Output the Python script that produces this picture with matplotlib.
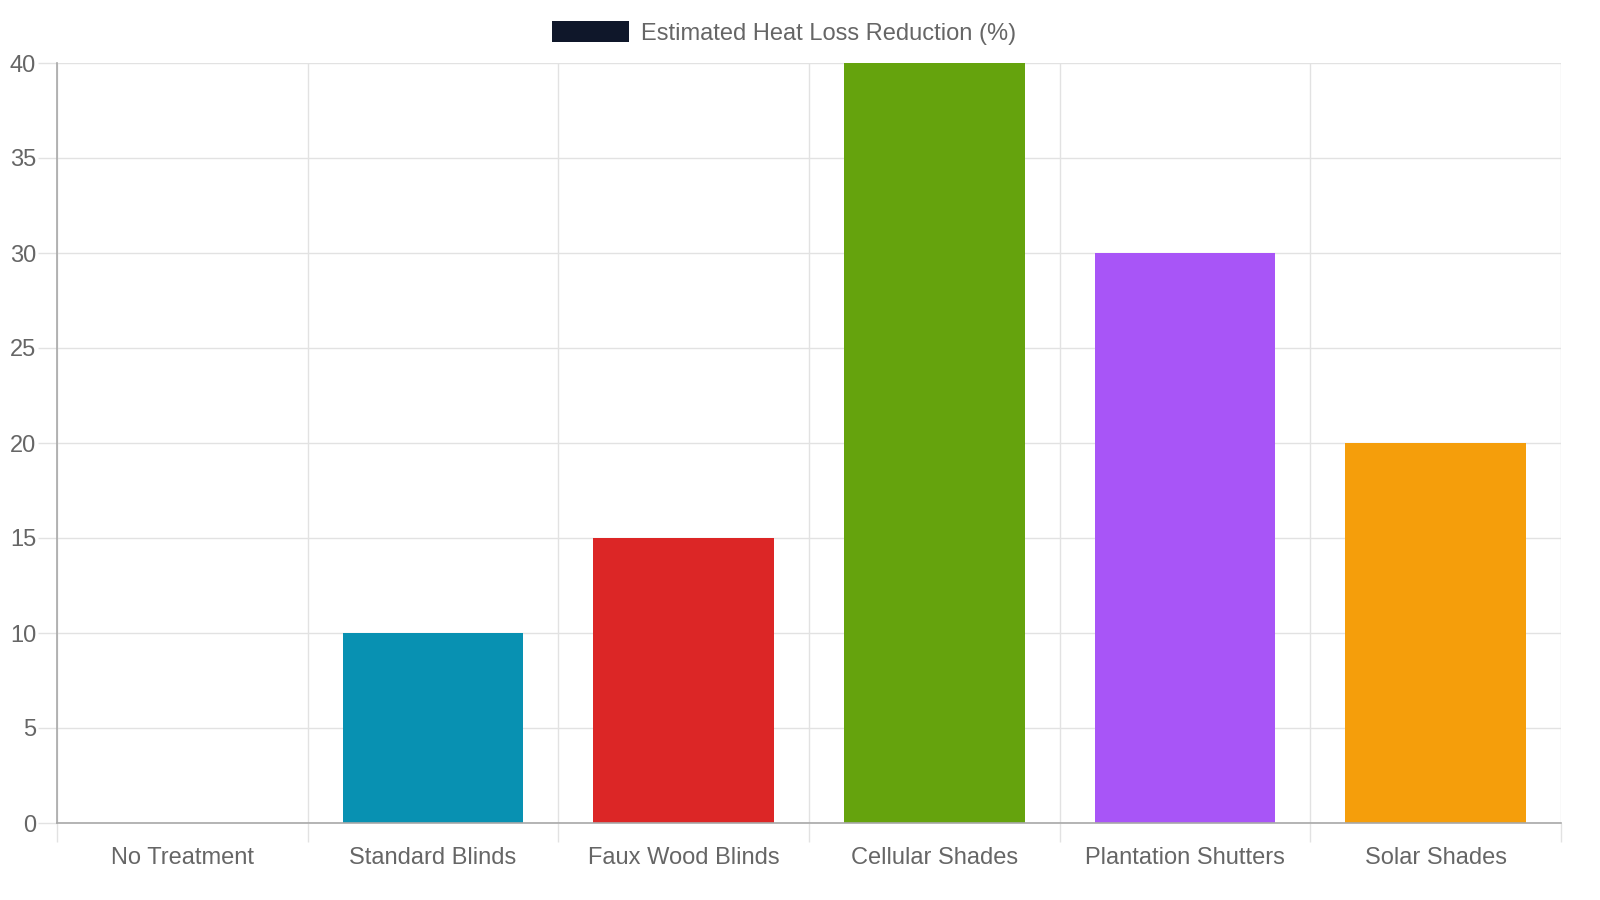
import matplotlib
matplotlib.use("Agg")
import matplotlib.pyplot as plt
import numpy as np

plt.rcParams['font.family'] = ['Liberation Sans', 'DejaVu Sans']

# data
categories = ["No Treatment", "Standard Blinds", "Faux Wood Blinds",
              "Cellular Shades", "Plantation Shutters", "Solar Shades"]
heat_loss_reduction = [0, 10, 15, 40, 30, 20]
bar_colors = ["#0f172a", "#0891b2", "#dc2626", "#65a30d", "#a855f7", "#f59e0b"]
series_label = "Estimated Heat Loss Reduction (%)"
y_ticks = [0, 5, 10, 15, 20, 25, 30, 35, 40]

text_col = "#666666"
grid_col = "#e2e2e2"
axis_col = "#a8a8a8"

fig = plt.figure(figsize=[16, 9], dpi=100, facecolor="white")
ax = fig.add_axes([57/1600, 77/900, (1561-57)/1600, (823-63)/900])

x = np.arange(len(categories))
ax.bar(x, heat_loss_reduction, width=0.72, color=bar_colors,
       label=series_label, zorder=3)

ax.set_xlim(-0.5, len(categories) - 0.5)
ax.set_ylim(0, 40)

# x: labels at centres, grid at category boundaries
ax.set_xticks(x)
ax.set_xticklabels(categories)
ax.set_xticks(np.arange(-0.5, len(categories)), minor=True)
ax.tick_params(axis="x", which="major", length=0, pad=17, labelsize=17, labelcolor=text_col)
ax.tick_params(axis="x", which="minor", length=13.5, width=1, color=grid_col)
ax.grid(axis="x", which="minor", color=grid_col, linewidth=1, zorder=0)

# y
ax.set_yticks(y_ticks)
ax.tick_params(axis="y", length=13.5, width=1, color=grid_col, pad=1.5,
               labelsize=17, labelcolor=text_col)
ax.grid(axis="y", which="major", color=grid_col, linewidth=1, zorder=0)

for s in ["top", "right"]:
    ax.spines[s].set_visible(False)
for s in ["left", "bottom"]:
    ax.spines[s].set_color(axis_col)
    ax.spines[s].set_linewidth(1.2)
    ax.spines[s].set_zorder(4)

leg = fig.legend(handles=[ax.patches[0]], labels=[series_label],
                 loc="upper center", bbox_to_anchor=(0.49, 1.0),
                 frameon=False, fontsize=17, handlelength=3.3,
                 handleheight=1.0, handletextpad=0.5)
for t in leg.get_texts():
    t.set_color(text_col)

fig.savefig("out.png", dpi=100, facecolor="white")
